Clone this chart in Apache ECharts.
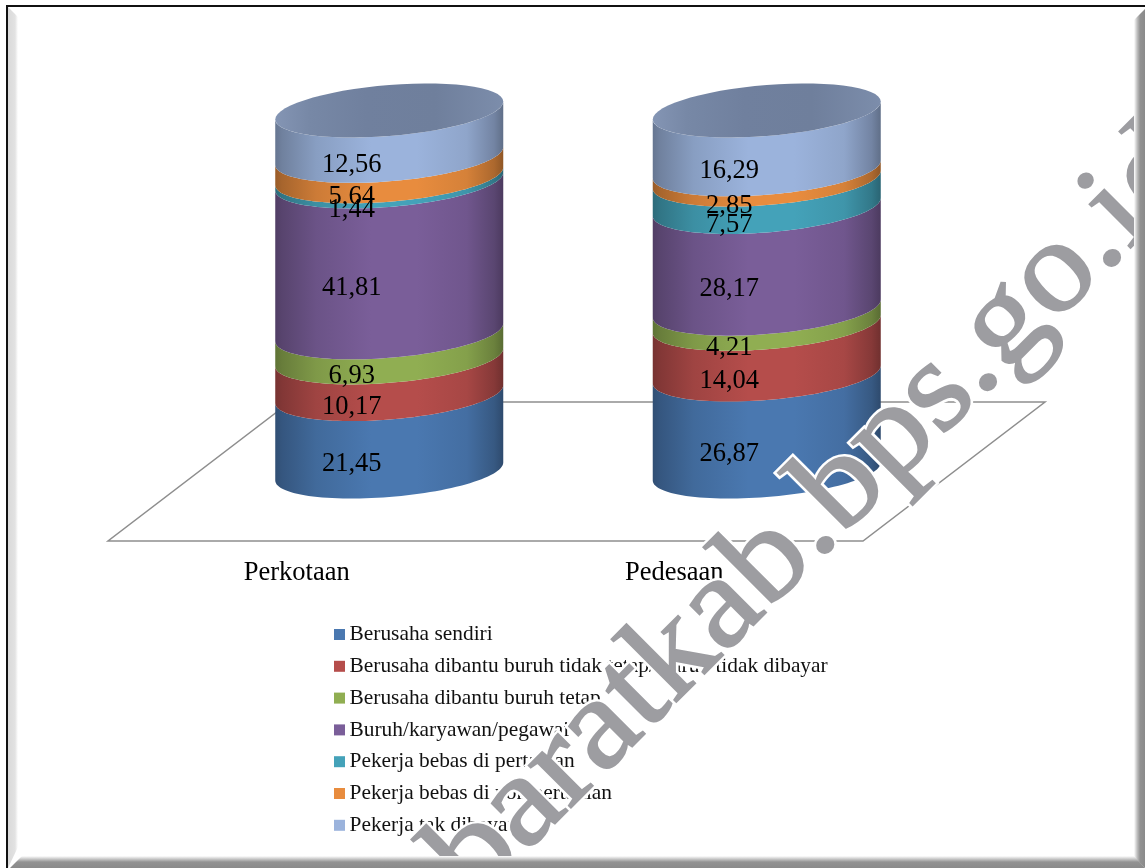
<!DOCTYPE html>
<html>
<head>
<meta charset="utf-8">
<title>Status pekerjaan</title>
<style>html,body{margin:0;padding:0;background:#fff}#chart{width:1145px;height:868px}</style>
<script src="https://cdn.jsdelivr.net/npm/echarts@6/dist/echarts.min.js"></script>
</head>
<body>
<div id="chart"></div>
<script>
// Stacked employment-status shares (percent) for urban and rural areas
const categories = ['Perkotaan', 'Pedesaan'];
const seriesNames = [
  'Berusaha sendiri',
  'Berusaha dibantu buruh tidak tetap/ buruh tidak dibayar',
  'Berusaha dibantu buruh tetap',
  'Buruh/karyawan/pegawai',
  'Pekerja bebas di pertanian',
  'Pekerja bebas di non pertanian',
  'Pekerja tak dibayar'
];
const berusahaSendiri = [21.45, 26.87];
const dibantuTidakTetap = [10.17, 14.04];
const dibantuTetap = [6.93, 4.21];
const buruh = [41.81, 28.17];
const bebasPertanian = [1.44, 7.57];
const bebasNonPertanian = [5.64, 2.85];
const takDibayar = [12.56, 16.29];
const seriesValues = [berusahaSendiri, dibantuTidakTetap, dibantuTetap, buruh, bebasPertanian, bebasNonPertanian, takDibayar];
const seriesColors = ['#4A78B0', '#B54D4B', '#90AE52', '#7A5E99', '#44A2B9', '#E88C3E', '#9BB3DC'];
const watermarkText = 'baratkab.bps.go.id';

// Oblique projection of the floor and the tilted cylinder ellipses
const DEPTH_X = 182, DEPTH_Y = 139, CENTER_SHIFT = 1.5;
const RADIUS_RATIO = 0.302, ELLIPSE_B = 25.5, ELLIPSE_SHEAR = -9;
const LABEL_DX = -37.5, LABEL_DY = 31.5;
const SERIF = '"Liberation Serif", "Times New Roman", serif';
// Brightness across the cylinder width, darkest at the silhouette
const shadeStops = [[0, .66], [.03, .72], [.18, .88], [.42, 1], [.62, 1], [.84, .92], [.96, .74], [1, .62]];

function arc(cx, cy, a, from, to) {
  const pts = [], n = 60;
  for (let i = 0; i <= n; i++) {
    const t = from + (to - from) * i / n;
    pts.push([cx + a * Math.cos(t), cy + ELLIPSE_B * Math.sin(t) + ELLIPSE_SHEAR * Math.cos(t)]);
  }
  return pts;
}
function scaleColor(hex, f) {
  const n = parseInt(hex.slice(1), 16);
  const ch = s => Math.round(((n >> s) & 255) * f);
  return 'rgb(' + ch(16) + ',' + ch(8) + ',' + ch(0) + ')';
}
function sideFill(color) {
  return new echarts.graphic.LinearGradient(0, 0, 1, 0,
    shadeStops.map(s => ({ offset: s[0], color: scaleColor(color, s[1]) })));
}
function bandSeries(name, idx) {
  const color = seriesColors[idx];
  const data = seriesValues[idx].map((v, c) => {
    let start = 0;
    for (let k = 0; k < idx; k++) start += seriesValues[k][c];
    return [c, start, start + v, v];
  });
  return {
    name, type: 'custom', data, z: 3, silent: true, clip: false,
    itemStyle: { color },
    encode: { x: 0, y: 2 },
    renderItem(params, api) {
      const c = api.value(0);
      const low = api.coord([c, api.value(1)]);
      const high = api.coord([c, api.value(2)]);
      const a = api.size([1, 0])[0] * RADIUS_RATIO;
      const cx = low[0] + DEPTH_X / 2 + CENTER_SHIFT;
      const y0 = low[1] - DEPTH_Y / 2, y1 = high[1] - DEPTH_Y / 2;
      const points = arc(cx, y0, a, 0, Math.PI).concat(arc(cx, y1, a, Math.PI, 0));
      const mid = (y0 + y1) / 2;
      return {
        type: 'group',
        children: [
          { type: 'polygon', shape: { points }, style: { fill: sideFill(color), stroke: null } },
          {
            type: 'text', z2: 100,
            style: {
              text: api.value(3).toFixed(2).replace('.', ','),
              x: cx + LABEL_DX, y: mid + LABEL_DY,
              align: 'center', verticalAlign: 'middle',
              font: '26.5px ' + SERIF, fill: '#000'
            }
          }
        ]
      };
    }
  };
}
const capData = categories.map((_, c) => [c, seriesValues.reduce((s, arr) => s + arr[c], 0)]);
const capSeries = {
  name: 'cap', type: 'custom', data: capData, z: 3, silent: true, clip: false,
  encode: { x: 0, y: 1 },
  renderItem(params, api) {
    const top = api.coord([api.value(0), api.value(1)]);
    const a = api.size([1, 0])[0] * RADIUS_RATIO;
    const points = arc(top[0] + DEPTH_X / 2 + CENTER_SHIFT, top[1] - DEPTH_Y / 2, a, 0, Math.PI * 2);
    return {
      type: 'polygon', shape: { points },
      style: {
        fill: new echarts.graphic.LinearGradient(0, 0, 1, 0, [
          { offset: 0, color: '#8495B4' }, { offset: .15, color: '#7788A6' }, { offset: .4, color: '#70809E' },
          { offset: .7, color: '#6F7F9C' }, { offset: 1, color: '#7C8DAB' }
        ])
      }
    };
  }
};
const floorSeries = {
  name: 'floor', type: 'custom', data: [[0, 0]], z: 1, silent: true, clip: false,
  renderItem(params) {
    const g = params.coordSys, yb = g.y + g.height;
    return {
      type: 'polygon',
      shape: { points: [[g.x, yb], [g.x + g.width, yb], [g.x + g.width + DEPTH_X, yb - DEPTH_Y], [g.x + DEPTH_X, yb - DEPTH_Y]] },
      style: { fill: '#fff', stroke: '#8E8E8E', lineWidth: 1.5 }
    };
  }
};

// Domain stamp lettering, widened slightly along its baseline
const watermarkBase = { text: watermarkText, font: '130px ' + SERIF, align: 'left', verticalAlign: 'bottom' };
const watermarkPlace = { x: 497, y: 925, rotation: Math.PI / 4, scaleX: 1.08, silent: true };
const chart = echarts.init(document.getElementById('chart'), null, { renderer: 'canvas' });
chart.setOption({
  animation: false,
  backgroundColor: '#fff',
  grid: { left: 108, width: 755, top: 180, height: 361 },
  xAxis: {
    type: 'category', data: categories,
    axisLine: { show: false }, axisTick: { show: false },
    axisLabel: { fontFamily: SERIF, fontSize: 26.5, color: '#000', margin: 19 }
  },
  yAxis: { type: 'value', min: 0, max: 100, show: false },
  legend: {
    data: seriesNames, orient: 'vertical', left: 329, top: 618,
    icon: 'rect', itemWidth: 11, itemHeight: 11, itemGap: 8.8, selectedMode: false,
    textStyle: { fontFamily: SERIF, fontSize: 21.4, color: '#111', padding: [0, 0, 0, -0.5], height: 23, lineHeight: 23 }
  },
  series: [floorSeries].concat(seriesNames.map(bandSeries), [capSeries]),
  graphic: [
    Object.assign({ type: 'text', z: 50, style: Object.assign({}, watermarkBase, { fill: '#fff', stroke: '#fff', lineWidth: 7 }) }, watermarkPlace),
    Object.assign({ type: 'text', z: 51, style: Object.assign({}, watermarkBase, { fill: '#9D9DA1', stroke: '#9D9DA1', lineWidth: 2 }) }, watermarkPlace),
    // Bevelled picture frame
    {
      type: 'polygon', z: 60, silent: true,
      shape: { points: [[8, 7], [18, 17], [18, 847], [8, 868]] },
      style: { fill: new echarts.graphic.LinearGradient(0, 0, 1, 0, [
        { offset: 0, color: '#DADADA' }, { offset: .7, color: '#E2E2E2' }, { offset: 1, color: '#FFFFFF' }
      ]) }
    },
    {
      type: 'polygon', z: 61, silent: true,
      shape: { points: [[1134, 20], [1145, 9], [1145, 868], [1134, 857]] },
      style: { fill: new echarts.graphic.LinearGradient(0, 0, 1, 0, [
        { offset: 0, color: '#FFFFFF' }, { offset: .3, color: '#BDBDBD' }, { offset: .55, color: '#929292' }, { offset: 1, color: '#8A8A8A' }
      ]) }
    },
    {
      type: 'polygon', z: 61, silent: true,
      shape: { points: [[10, 868], [22, 856], [1134, 856], [1145, 868]] },
      style: { fill: new echarts.graphic.LinearGradient(0, 0, 0, 1, [
        { offset: 0, color: '#FFFFFF' }, { offset: .3, color: '#BDBDBD' }, { offset: .5, color: '#929292' }, { offset: 1, color: '#8A8A8A' }
      ]) }
    },
    { type: 'rect', z: 62, silent: true, shape: { x: 6, y: 5, width: 1139, height: 2 }, style: { fill: '#111' } },
    { type: 'rect', z: 62, silent: true, shape: { x: 6, y: 5, width: 2, height: 863 }, style: { fill: '#111' } }
  ]
});
</script>
</body>
</html>
